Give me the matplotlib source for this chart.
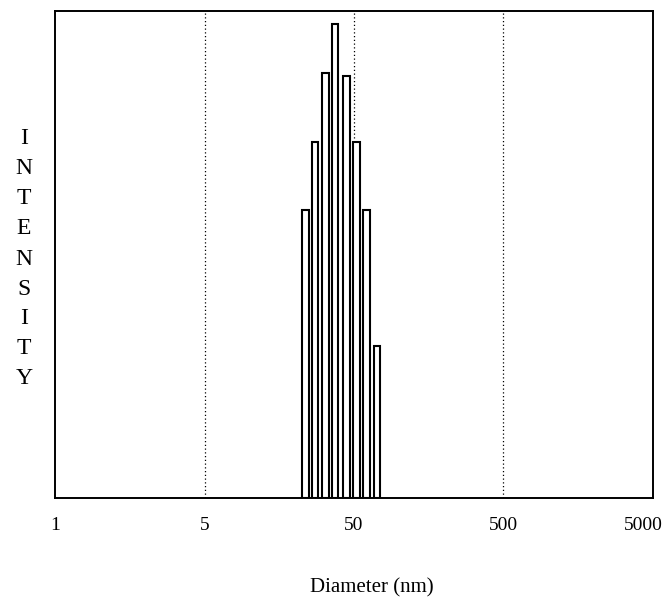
import matplotlib
matplotlib.use("Agg")
import matplotlib.pyplot as plt
import matplotlib.transforms as mtransforms
import numpy as np

# size distribution (diameter in nm, relative intensity)
diameters = [23.7, 27.4, 32.2, 37.5, 44.5, 52.0, 60.6, 70.9]
intensity = [60.8, 75.1, 89.7, 100.0, 89.0, 75.1, 60.8, 32.1]

tick_pos = [0.5, 5, 50, 500, 5000]
tick_labels = ["1", "5", "50", "500", "5000"]
grid_pos = [5, 50, 500]

plt.rcParams["font.family"] = ["Liberation Serif", "DejaVu Serif"]

fig = plt.figure(figsize=(6.7, 5.99), dpi=100)
ax = fig.add_axes([0.0821, 0.1686, 0.8925, 0.813])

# bars of constant width in log space
d = np.array(diameters)
half = 0.021
left = d * 10 ** (-half)
width = d * 10 ** half - left
ax.bar(left, intensity, width=width, align="edge", color="white",
       edgecolor="black", linewidth=1.5, zorder=3)

for g in grid_pos:
    ax.axvline(g, color="black", linestyle=(0, (1, 2)), linewidth=0.9, zorder=1)

ax.set_xscale("log")
ax.set_xlim(0.5, 5000)
ax.set_ylim(0, 102.7)
ax.set_xticks(tick_pos)
ax.set_xticklabels(tick_labels, fontsize=14)
ax.minorticks_off()
ax.tick_params(axis="x", length=0, pad=14)
ax.set_yticks([])
for s in ax.spines.values():
    s.set_linewidth(1.4)

# last label sits a bit left so it stays inside the figure
lab = ax.get_xticklabels()[-1]
lab.set_transform(lab.get_transform() +
                  mtransforms.ScaledTranslation(-0.10, 0, fig.dpi_scale_trans))

fig.text(372 / 670, 1 - 588 / 599, "Diameter (nm)", fontsize=15,
         ha="center", va="center")

for i, ch in enumerate("INTENSITY"):
    fig.text(24 / 670, 1 - (139 + 30 * i) / 599, ch, fontsize=17,
             ha="center", va="center")

fig.savefig("out.png", dpi=100)
